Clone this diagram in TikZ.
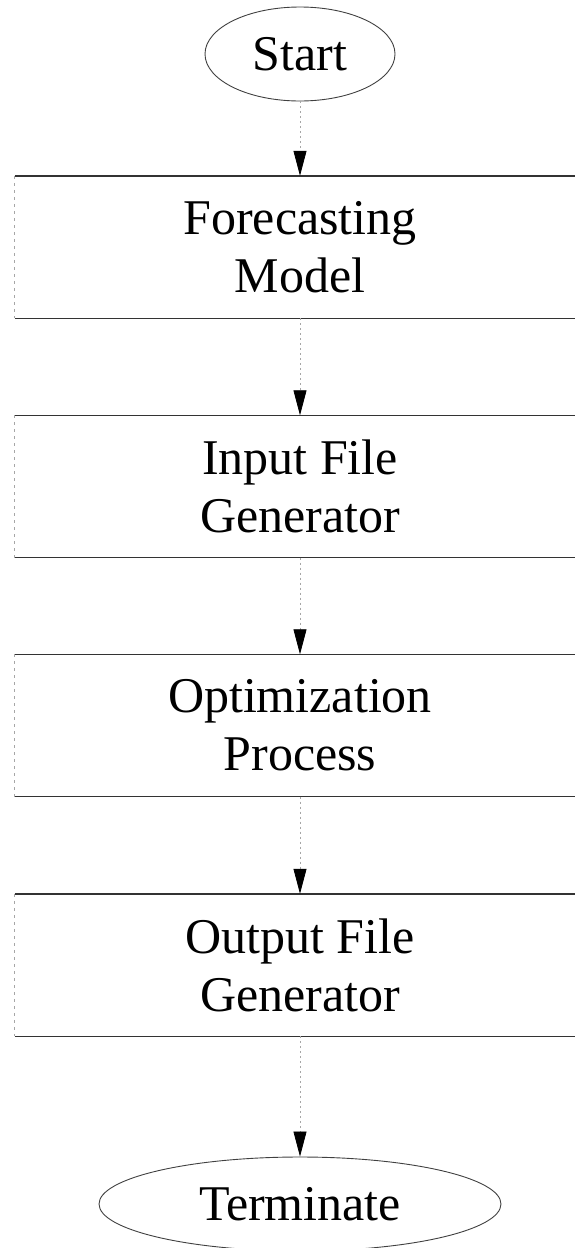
\documentclass[tikz,border=0pt]{standalone}
\usepackage{fontspec}
\setmainfont{Liberation Serif}
\usetikzlibrary{shapes.geometric,arrows.meta}
\tikzset{
  txt/.style={font=\fontsize{50}{58}\selectfont, align=center, text=black},
  termnode/.style={txt, ellipse, draw=black!75, line width=0.9pt, inner sep=0pt},
  procnode/.style={txt, rectangle, inner sep=0pt, minimum width=570pt, minimum height=142pt},
  hline/.style={draw=black!80, line width=1.4pt},
  vline/.style={draw=black!35, line width=0.8pt, dash pattern=on 3pt off 4pt},
  flow/.style={draw=black!35, line width=0.8pt, dash pattern=on 2pt off 3pt,
    -{Triangle[length=25pt,width=13pt,color=black,fill=black]}},
}
\begin{document}
\begin{tikzpicture}[x=1pt,y=-1pt]
\useasboundingbox (0,0) rectangle (575,1248);
\node[termnode, minimum width=190pt, minimum height=94pt] (start) at (300,54) {Start};
\node[procnode] (b1) at (300,247) {Forecasting\\Model};
\node[procnode] (b2) at (300,486.5) {Input File\\Generator};
\node[procnode] (b3) at (300,725.5) {Optimization\\Process};
\node[procnode] (b4) at (300,965) {Output File\\Generator};
\node[termnode, minimum width=402pt, minimum height=94pt] (term) at (300,1204) {Terminate};
\foreach \b in {b1,b2,b3,b4}{
  \draw[hline] (\b.north west) -- (\b.north east);
  \draw[hline] (\b.south west) -- (\b.south east);
  \draw[vline] (\b.north west) -- (\b.south west);
}
\draw[flow] (start.south) -- (b1.north);
\draw[flow] (b1.south) -- (b2.north);
\draw[flow] (b2.south) -- (b3.north);
\draw[flow] (b3.south) -- (b4.north);
\draw[flow] (b4.south) -- (term.north);
\end{tikzpicture}
\end{document}
